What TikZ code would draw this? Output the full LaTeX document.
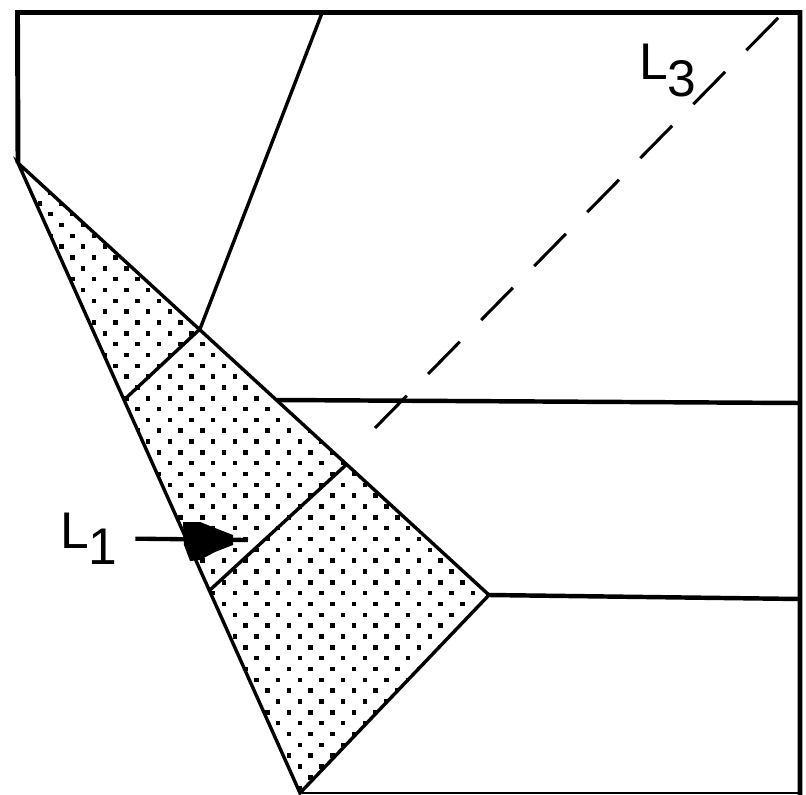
\documentclass[tikz,border=0pt]{standalone}
\usepackage{fontspec}
\setmainfont{Liberation Sans}
\usetikzlibrary{calc}

\begin{document}
\begin{tikzpicture}[
        x=0.03cm, y=-0.03cm,
        frame/.style={line width=4.2pt, line join=miter},
        edge/.style={line width=2.9pt},
        rail/.style={line width=3.8pt},
        ray/.style={line width=2.6pt, dash pattern=on 38.7pt off 25.9pt},
        lbl/.style={inner sep=0pt, font=\fontsize{44}{44}\selectfont},
        arrow/.style={line width=3.7pt}
    ]
    \useasboundingbox (0,0) rectangle (806,795);

    % Points
    \coordinate (FrameTL) at (17.5,12.5);
    \coordinate (FrameTR) at (800,12.5);
    \coordinate (FrameBR) at (800,795);
    \coordinate (WedgeTop) at (18,163);
    \coordinate (WedgeRight) at (489,595);
    \coordinate (WedgeBottom) at (300,793);
    \coordinate (SpokeTop) at (322,13);
    \coordinate (CrossP) at (200,329);
    \coordinate (CrossQ) at (125,399);
    \coordinate (CrossR) at (347,464);
    \coordinate (CrossS) at (210,590);
    \coordinate (RailUp) at (277,400);
    \coordinate (RailUpEnd) at (800,403);
    \coordinate (RailLowEnd) at (800,599);
    \coordinate (RayStart) at (375,428);
    \coordinate (RayEnd) at (782,14);
    \coordinate (L1tip) at (248,540);

    % Dotted wedge
    \begin{scope}
        \clip (WedgeTop) -- (WedgeRight) -- (WedgeBottom) -- cycle;
        \foreach \r in {0,...,58}{
            \pgfmathsetmacro\rowshift{mod(\r,2)*10.83}
            \foreach \c in {0,...,22}{
                \fill ({15.9+\c*21.67+\rowshift},{157.75+\r*10.83}) rectangle ++(4.5,4.5);
            }
        }
    \end{scope}

    % Frame
    \draw [frame] (WedgeTop) -- (FrameTL) -- (FrameTR) -- (FrameBR);
    \draw [line width=1.7pt] (WedgeBottom) -- (WedgeBottom -| FrameBR);

    % Lines
    \draw [edge] (WedgeTop) -- (WedgeRight) -- (WedgeBottom) -- cycle;
    \draw [edge] (SpokeTop) -- (CrossP) -- (CrossQ);
    \draw [edge] (CrossR) -- (CrossS);
    \draw [rail] (RailUp) -- (RailUpEnd);
    \draw [rail] (WedgeRight) -- (RailLowEnd);
    \draw [ray] (RayStart) -- (RayEnd);

    % Labels
    \node (L1lab) [lbl, anchor=base west] at (60,548) {L\raisebox{-14pt}{1}};
    \node (L3lab) [lbl, anchor=base west] at (639,80) {L\raisebox{-14pt}{3}};

    % Arrow
    \draw [arrow, shorten <=15pt] (L1lab.east) -- (L1tip);
    \fill (183,522) -- (200,522) -- (215,528) -- (233,535) -- (233,545)
        -- (215,552) -- (200,560) -- (190,561) -- (184,545) -- cycle;
\end{tikzpicture}
\end{document}
